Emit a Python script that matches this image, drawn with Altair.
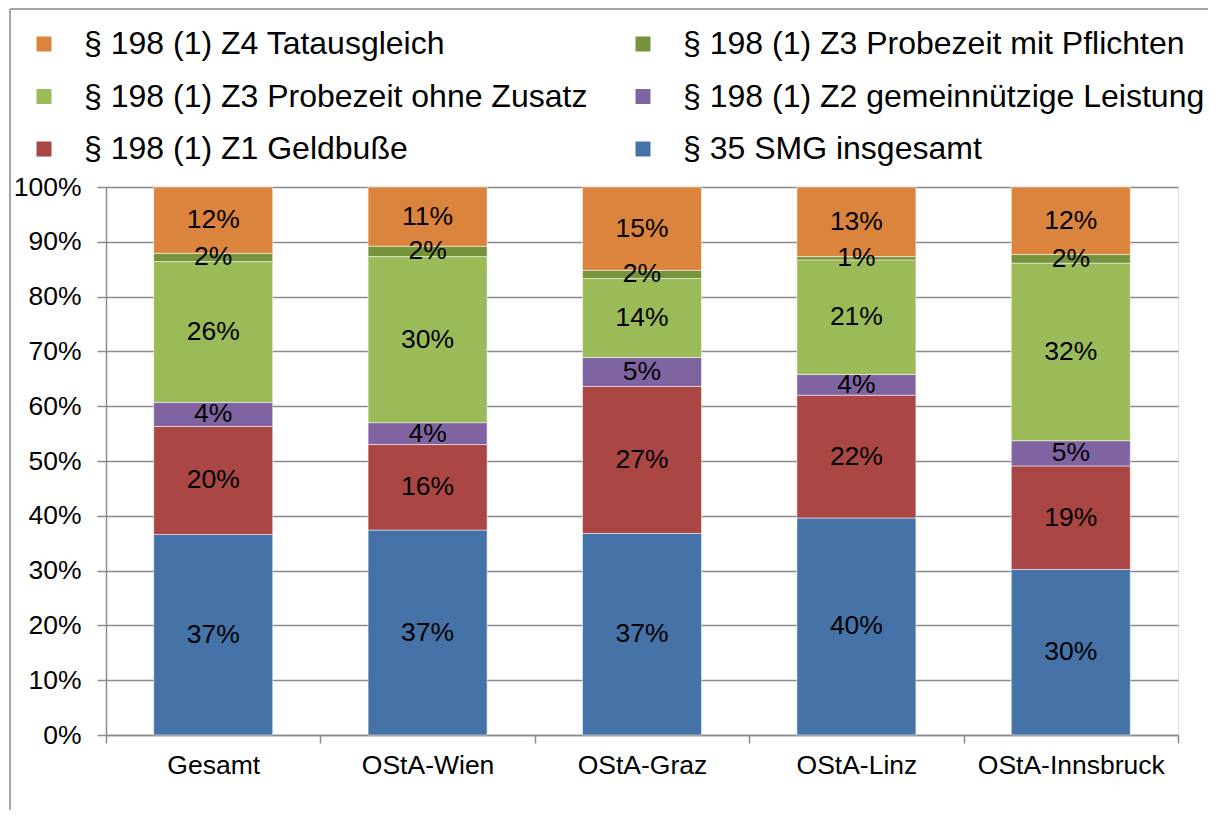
import altair as alt
import pandas as pd

categories = ["Gesamt", "OStA-Wien", "OStA-Graz", "OStA-Linz", "OStA-Innsbruck"]

# stacking order bottom -> top
series_names = [
    "§ 35 SMG insgesamt",
    "§ 198 (1) Z1 Geldbuße",
    "§ 198 (1) Z2 gemeinnützige Leistung",
    "§ 198 (1) Z3 Probezeit ohne Zusatz",
    "§ 198 (1) Z3 Probezeit mit Pflichten",
    "§ 198 (1) Z4 Tatausgleich",
]
smg35 = [36.6, 37.4, 36.8, 39.6, 30.2]
z1_geldbusse = [19.7, 15.6, 26.8, 22.4, 18.9]
z2_gemeinn = [4.4, 4.0, 5.3, 3.8, 4.6]
z3_ohne = [25.7, 30.3, 14.4, 20.9, 32.4]
z3_mit = [1.5, 1.9, 1.5, 0.6, 1.6]
z4_tatausgleich = [12.1, 10.8, 15.2, 12.7, 12.3]
series_values = [smg35, z1_geldbusse, z2_gemeinn, z3_ohne, z3_mit, z4_tatausgleich]

# legend fills column by column (3 rows x 2 columns)
legend_order = [
    "§ 198 (1) Z4 Tatausgleich",
    "§ 198 (1) Z3 Probezeit ohne Zusatz",
    "§ 198 (1) Z1 Geldbuße",
    "§ 198 (1) Z3 Probezeit mit Pflichten",
    "§ 198 (1) Z2 gemeinnützige Leistung",
    "§ 35 SMG insgesamt",
]
legend_colors = ["#DB843D", "#9BBB59", "#AA4643", "#77933C", "#8064A2", "#4572A7"]

rows = []
for si, (name, vals) in enumerate(zip(series_names, series_values)):
    for cat, v in zip(categories, vals):
        rows.append({"cat": cat, "series": name, "value": v, "order": si})
df = pd.DataFrame(rows)

FONT = "Liberation Sans"
GRID = "#8a8a8a"
FS = 26.5

base = alt.Chart(df).transform_stack(
    stack="value", groupby=["cat"], as_=["y0", "y1"],
    sort=[alt.SortField("order", order="ascending")]
)

x_enc = alt.X(
    "cat:N", sort=categories,
    scale=alt.Scale(paddingInner=0, paddingOuter=0),
    axis=alt.Axis(
        title=None, labelAngle=0, tickBand="extent", labelFontSize=FS,
        labelFont=FONT, labelColor="black", labelLimit=400, tickSize=8,
        tickColor=GRID, tickWidth=1.5, domainColor=GRID, domainWidth=1.5,
        labelPadding=9, grid=False,
    ),
)

bars = base.mark_bar(
    width={"band": 0.555}, stroke="white", strokeWidth=1, strokeOpacity=0.5
).encode(
    x=x_enc,
    y=alt.Y(
        "y0:Q",
        scale=alt.Scale(domain=[0, 100], nice=False),
        axis=alt.Axis(
            title=None, values=list(range(0, 101, 10)),
            labelExpr="datum.value + '%'", labelFontSize=FS, labelFont=FONT,
            labelColor="black", tickSize=9, tickColor=GRID, tickWidth=1.5,
            domainColor=GRID, domainWidth=1.5, gridColor=GRID, gridWidth=1.5,
            labelPadding=16,
        ),
    ),
    y2="y1:Q",
    color=alt.Color(
        "series:N",
        scale=alt.Scale(domain=legend_order, range=legend_colors),
        legend=alt.Legend(
            title=None, orient="none", legendX=-78, legendY=-159, columns=2,
            symbolType="square", symbolSize=225, symbolStrokeWidth=0,
            labelFontSize=32, labelFont=FONT, labelColor="black",
            labelLimit=900, labelOffset=24, columnPadding=21, rowPadding=20.5,
            gridAlign="all", padding=0,
        ),
    ),
)

texts = base.transform_calculate(
    mid="(datum.y0 + datum.y1) / 2",
    label="format(datum.value, '.0f') + '%'",
).mark_text(fontSize=FS, font=FONT, color="black", baseline="middle").encode(
    x=alt.X("cat:N", sort=categories),
    y=alt.Y("mid:Q"),
    text="label:N",
)

one = pd.DataFrame({"k": [0]})
border_top = alt.Chart(one).mark_rule(color="#898989", strokeWidth=1.5).encode(
    x=alt.value(-96), x2=alt.value(1102), y=alt.value(-178)
)
border_left = alt.Chart(one).mark_rule(color="#898989", strokeWidth=1.5).encode(
    x=alt.value(-96), y=alt.value(-178), y2=alt.value(631)
)

chart = alt.layer(bars, texts, border_top, border_left).properties(
    width=1072, height=548,
    autosize=alt.AutoSizeParams(type="none"),
    padding={"left": 98, "top": 179, "right": 30, "bottom": 75},
).configure_view(stroke=None).configure(font=FONT)

chart.save("out.html", embed_options={"renderer": "svg", "actions": False})
